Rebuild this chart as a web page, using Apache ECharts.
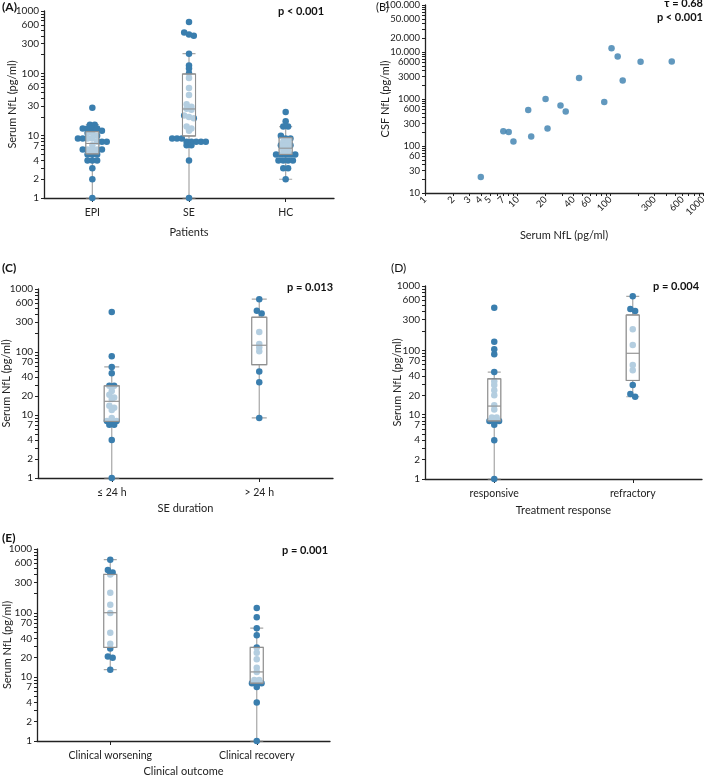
<!DOCTYPE html>
<html><head><meta charset="utf-8">
<script src="https://cdn.jsdelivr.net/npm/echarts@6/dist/echarts.min.js"></script>
<style>html,body{margin:0;padding:0;background:#fff}#c{width:709px;height:778px}</style>
</head><body><div id="c"></div>
<script>
// ---------- Panel A ----------
const catsA = ['EPI', 'SE', 'HC'];
const epiVals = [28, 15, 15, 13, 13, 13, 13, 12, 11, 11, 10, 9, 9, 9, 9, 8, 8, 8, 7, 6, 6, 6, 6, 6, 5, 5, 5, 4, 4, 4, 3, 2, 1];
const seVals = [666, 450, 420, 400, 207, 134, 119, 100, 84, 58, 45, 32, 29, 27, 26, 21, 20, 19, 14, 13, 12, 9, 9, 9, 8, 8, 8, 8, 8, 7, 7, 4, 1];
const hcVals = [24, 17, 14, 14, 10, 9, 9, 8, 8, 7, 7, 7, 6, 6, 5, 5, 5, 5, 5, 4, 4, 4, 4, 3, 3, 2];
const boxA = [[1, 5.1, 7.5, 11.6, 15], [1, 9.9, 26.8, 97.5, 207], [2, 5, 6.3, 9.3, 14]];
const ticksA = [1, 2, 4, 7, 10, 30, 60, 100, 300, 600, 1000];

// ---------- Panel B ----------
const serumB = [4, 7, 8, 9, 13, 14, 20, 21, 29, 33, 46, 86, 103, 120, 136, 212, 460];
const csfB = [22, 205, 198, 125, 580, 160, 1000, 235, 730, 545, 2800, 860, 12000, 8000, 2470, 6200, 6300];
const ticksBx = [1, 2, 3, 4, 5, 7, 10, 20, 40, 60, 100, 300, 600, 1000];
const ticksBy = [10, 30, 60, 100, 300, 600, 1000, 3000, 6000, 10000, 20000, 50000, 100000];

// ---------- Panel C ----------
const catsC = ['≤ 24 h', '> 24 h'];
const cLe24 = [430, 86, 58, 46, 29, 29, 24, 21, 19, 18, 14, 13, 12, 9, 8, 8, 8, 7, 7, 4, 1];
const cGt24 = [690, 450, 410, 208, 134, 119, 103, 49, 33, 9];
const boxC = [[1, 7.9, 16.5, 29, 58], [9, 63, 128, 356, 690]];

// ---------- Panel D ----------
const catsD = ['responsive', 'refractory'];
const dResp = [460, 136, 104, 87, 46, 33, 29, 24, 20, 14, 12, 9, 9, 8, 8, 8, 7, 4, 1];
const dRefr = [690, 440, 410, 212, 121, 59, 49, 29, 21, 19];
const boxD = [[1, 8, 13.6, 36, 46], [19, 34, 90, 354, 690]];

// ---------- Panel E ----------
const catsE = ['Clinical worsening', 'Clinical recovery'];
const eWors = [680, 470, 430, 400, 207, 135, 100, 49, 33, 28, 21, 20, 13];
const eRec = [120, 86, 58, 45, 29, 24, 19, 14, 12, 9, 9, 8, 8, 8, 7, 4, 1];
const boxE = [[13, 29, 101, 400, 680], [1, 8, 12, 29, 58]];

const ticksCDE = [1, 2, 4, 7, 10, 20, 40, 70, 100, 300, 600, 1000];

// ---------- styling ----------
const FONT = 'Lato, "Open Sans", "DejaVu Sans", sans-serif';
const DOT = '#3a7eae';
const AX = '#222';

function minorTicks(lo, hi) {
  const out = [];
  for (let p = 1; p <= hi; p *= 10) for (let d = 1; d <= 9; d++) { const v = d * p; if (v >= lo && v <= hi) out.push(v); }
  if (out[out.length - 1] !== hi) out.push(hi);
  return out;
}
function fmtNum(v) { return v >= 10000 ? String(v).replace(/\B(?=(\d{3})+(?!\d))/g, '.') : String(v); }

function logAxis(gi, min, max, labels, name, gap, extra) {
  return Object.assign({
    type: 'log', logBase: 10, gridIndex: gi, min: min, max: max,
    name: name, nameLocation: 'middle', nameGap: gap, nameMoveOverlap: false,
    nameTextStyle: { fontFamily: FONT, fontSize: 11, color: AX },
    axisLine: { show: true, lineStyle: { color: AX, width: 1.3 } },
    axisTick: { show: true, customValues: minorTicks(min, max), length: 3, lineStyle: { color: AX, width: 1 } },
    axisLabel: { customValues: labels, fontFamily: FONT, fontSize: 10, color: AX, margin: 5, formatter: v => fmtNum(Math.round(v)) },
    splitLine: { show: false }, minorTick: { show: false }, minorSplitLine: { show: false }
  }, extra || {});
}
function catAxis(gi, cats, name, gap) {
  return {
    type: 'category', gridIndex: gi, data: cats,
    name: name, nameLocation: 'middle', nameGap: gap,
    nameTextStyle: { fontFamily: FONT, fontSize: 11, color: AX },
    axisLine: { show: true, lineStyle: { color: AX, width: 1.3 } },
    axisTick: { show: true, alignWithLabel: true, length: 4, lineStyle: { color: AX } },
    axisLabel: { fontFamily: FONT, fontSize: 10.5, color: AX, margin: 9 },
    splitLine: { show: false }
  };
}
function hiddenCat(gi, cats) {
  return { type: 'category', gridIndex: gi, data: cats, show: false };
}

const panels = [
  { gi: 0, cats: catsA, groups: [epiVals, seVals, hcVals], box: boxA, bw: 13 },
  null,
  { gi: 2, cats: catsC, groups: [cLe24, cGt24], box: boxC, bw: 15 },
  { gi: 3, cats: catsD, groups: [dResp, dRefr], box: boxD, bw: 13 },
  { gi: 4, cats: catsE, groups: [eWors, eRec], box: boxE, bw: 13 }
];

function binSwarm(py, binH, step) {
  const idx = py.map((_, i) => i).sort((a, b) => py[a] - py[b]);
  const dx = new Array(py.length).fill(0);
  let bin = [];
  const flush = () => { bin.forEach((k, j) => { dx[k] = (j - (bin.length - 1) / 2) * step; }); bin = []; };
  for (const k of idx) {
    if (bin.length && py[k] - py[bin[0]] > binH) flush();
    bin.push(k);
  }
  flush();
  return dx;
}

function buildOption(offsets) {
  const series = [];
  const extraX = [];
  panels.forEach((p, pi) => {
    if (!p) return;
    const ovIdx = 5 + extraX.length;
    extraX.push(hiddenCat(p.gi, p.cats));
    series.push({
      type: 'boxplot', xAxisIndex: p.gi, yAxisIndex: p.gi, silent: true, z: 1,
      boxWidth: [p.bw, p.bw], data: p.box,
      itemStyle: { color: 'rgba(0,0,0,0)', borderColor: '#a6a6a6', borderWidth: 1.2 }
    });
    const data = [];
    p.groups.forEach((vals, ci) => vals.forEach((v, j) => {
      data.push({ value: [ci, v], symbolOffset: [offsets ? offsets[pi][ci][j] : 0, 0] });
    }));
    series.push({
      type: 'scatter', xAxisIndex: p.gi, yAxisIndex: p.gi, silent: true, z: 2,
      symbolSize: 6.5, itemStyle: { color: DOT, opacity: 1 }, data: data
    });
    series.push({
      type: 'boxplot', xAxisIndex: ovIdx, yAxisIndex: p.gi, silent: true, z: 3,
      boxWidth: [p.bw, p.bw], data: p.box.map(b => [b[1], b[1], b[2], b[3], b[3]]),
      itemStyle: { color: 'rgba(255,255,255,0.62)', borderColor: '#8f8f8f', borderWidth: 1 }
    });
  });
  series.push({
    type: 'scatter', xAxisIndex: 1, yAxisIndex: 1, silent: true, z: 2,
    symbolSize: 6.5, itemStyle: { color: DOT },
    data: serumB.map((x, i) => [x, csfB[i]])
  });

  const txt = (left, top, text, weight, size, extra) => Object.assign({
    type: 'text', left: left, top: top, silent: true,
    style: { text: text, font: (weight || 'normal') + ' ' + (size || 12) + 'px ' + FONT, fill: '#111' }
  }, extra || {});

  return {
    animation: false,
    backgroundColor: '#fff',
    grid: [
      { left: 44, top: 11, width: 290, height: 187 },
      { left: 425, top: 5, width: 278, height: 188 },
      { left: 37, top: 289, width: 296, height: 189 },
      { left: 425, top: 286, width: 277, height: 193 },
      { left: 37, top: 549, width: 293, height: 193 }
    ],
    xAxis: [
      catAxis(0, catsA, 'Patients', 29),
      logAxis(1, 1, 1000, ticksBx, 'Serum NfL (pg/ml)', 37, {
        nameMoveOverlap: true,
        axisTick: { show: true, customValues: minorTicks(1, 1000), length: 3, lineStyle: { color: AX } },
        axisLabel: { customValues: ticksBx, rotate: 45, fontFamily: FONT, fontSize: 9.5, color: AX, margin: 5, formatter: v => fmtNum(Math.round(v)) }
      }),
      catAxis(2, catsC, 'SE duration', 25),
      catAxis(3, catsD, 'Treatment response', 26),
      catAxis(4, catsE, 'Clinical outcome', 25)
    ].concat(extraX),
    yAxis: [
      logAxis(0, 1, 1000, ticksA, 'Serum NfL (pg/ml)', 26),
      logAxis(1, 10, 100000, ticksBy, 'CSF NfL (pg/ml)', 34, {
        axisLabel: { customValues: ticksBy, fontFamily: FONT, fontSize: 9.5, color: AX, margin: 5, formatter: v => fmtNum(Math.round(v)) }
      }),
      logAxis(2, 1, 1000, ticksCDE, 'Serum NfL (pg/ml)', 26),
      logAxis(3, 1, 1000, ticksCDE, 'Serum NfL (pg/ml)', 22),
      logAxis(4, 1, 1000, ticksCDE, 'Serum NfL (pg/ml)', 24)
    ],
    series: series,
    graphic: [
      txt(2, 1, '(A)', 'bold', 12),
      txt(278, 6, 'p < 0.001', 'bold', 11),
      txt(376, 2, '(B)', 'normal', 11),
      txt(null, -2, 'τ = 0.68', 'bold', 11, { right: 6 }),
      txt(null, 12, 'p < 0.001', 'bold', 11, { right: 6 }),
      txt(2, 262, '(C)', 'bold', 12),
      txt(287, 282, 'p = 0.013', 'bold', 11),
      txt(391, 262, '(D)', 'normal', 12),
      txt(653, 281, 'p = 0.004', 'bold', 11),
      txt(2, 532, '(E)', 'bold', 12),
      txt(282, 545, 'p = 0.001', 'bold', 11)
    ]
  };
}

const chart = echarts.init(document.getElementById('c'), null, { renderer: 'canvas', width: 709, height: 778 });
chart.setOption(buildOption(null));
const offsets = panels.map(p => p ? p.groups.map(vals => {
  const py = vals.map(v => chart.convertToPixel({ yAxisIndex: p.gi }, v));
  return binSwarm(py, 3.2, 4.8);
}) : null);
chart.setOption(buildOption(offsets), true);
</script>
</body></html>
